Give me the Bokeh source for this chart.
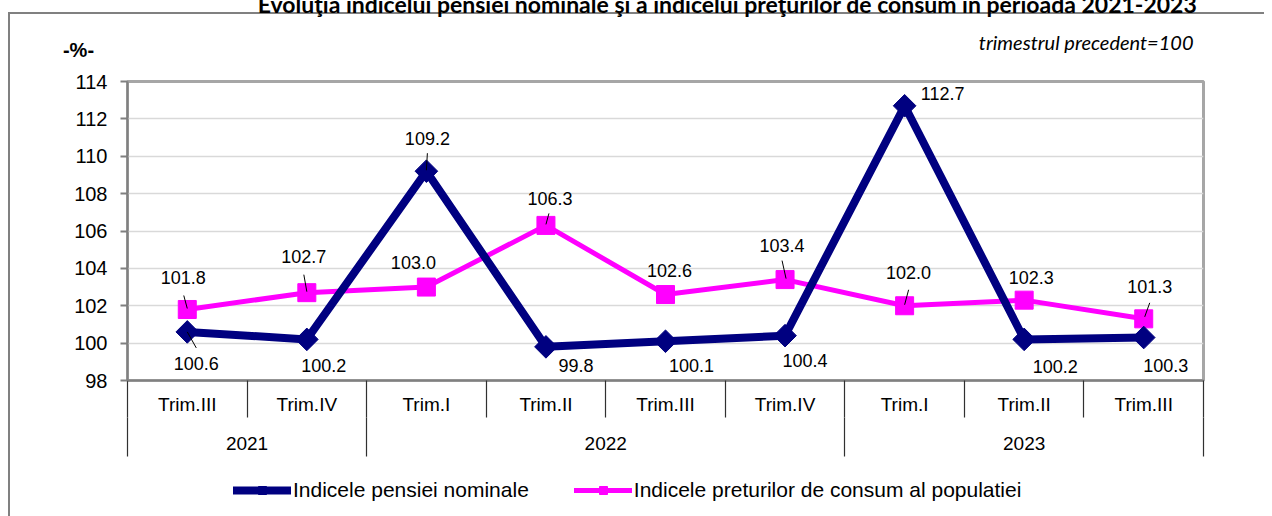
import numpy as np
from bokeh.plotting import figure
from bokeh.layouts import column
from bokeh.models import (Range1d, FixedTicker, LinearAxis, Label,
                          Legend, LegendItem, ColumnDataSource)
from bokeh.core.properties import value
from bokeh.embed import file_html
from bokeh.resources import INLINE

# ---------------- data ----------------
title = "Evoluţia indicelui pensiei nominale şi a indicelui preţurilor de consum în perioada 2021-2023"
note = "trimestrul precedent=100"
unit = "-%-"
years = ["2021", "2022", "2023"]
year_quarters = [2, 4, 3]
quarters = ["Trim.III", "Trim.IV", "Trim.I", "Trim.II", "Trim.III",
            "Trim.IV", "Trim.I", "Trim.II", "Trim.III"]
pension = [100.6, 100.2, 109.2, 99.8, 100.1, 100.4, 112.7, 100.2, 100.3]
cpi = [101.8, 102.7, 103.0, 106.3, 102.6, 103.4, 102.0, 102.3, 101.3]
pension_name = "Indicele pensiei nominale"
cpi_name = "Indicele preturilor de consum al populatiei"
y_ticks = [98, 100, 102, 104, 106, 108, 110, 112, 114]

# label offsets in screen px (dx right, dy down)
pension_lbl_dx = [9, 17, 1, 30, 26, 20, 38, 31, 22]
pension_lbl_dy = [32, 26, -33, 19, 24, 25, -12, 27, 28]
cpi_lbl_dx = [-4, -3, -13, 4, 4, -3, 4, 7, 6]
cpi_lbl_dy = [-32, -36, -25, -27, -24, -34, -33, -23, -32]
# leader lines: (series, index, dx0, dy0, dx1, dy1) in screen px
leaders = [("cpi", 0, -3.5, -14, 0, -1), ("pension", 0, 0, 0, 9, 16),
           ("cpi", 1, -3, -18, 0, -1), ("pension", 2, 1, -18, 0, -1),
           ("cpi", 3, 3, -12, 0, -1), ("cpi", 5, -3, -19, 1, -1),
           ("cpi", 6, 4, -16, 0, -1), ("cpi", 8, 6, -16, 1, -2)]

# ---------------- geometry ----------------
SHIFT = 16                  # whole page pulled up: the title is cut like in the source
W = 1264
TOP_H = 62 + SHIFT          # header strip (title, note, unit)
MAIN_H = 460 - 62           # chart with category axes
LEG_H = 516 - 460           # legend strip
ML, MR, MT, MB = 127, 61, 19, 80
FW = W - ML - MR
FH = MAIN_H - MT - MB
n = len(quarters)
ymin, ymax = y_ticks[0], y_ticks[-1]
px_x = FW / n
px_y = FH / (ymax - ymin)
FONT = "Liberation Sans"
BORDER = "#808080"


def left_line_bg(top=0):
    s = (f"linear-gradient({BORDER},{BORDER}) 8px {top}px / 2px calc(100% - {top}px) no-repeat")
    if top:
        s += f", linear-gradient({BORDER},{BORDER}) 8px {top}px / calc(100% - 8px) 2px no-repeat"
    return s + ", #ffffff"


def strip(height, yr):
    f = figure(width=W, height=height, x_range=Range1d(0, W), y_range=yr,
               output_backend="svg", toolbar_location=None, min_border=0,
               x_axis_location=None, y_axis_location=None)
    f.outline_line_color = None
    f.background_fill_color = None
    f.border_fill_color = None
    f.grid.visible = False
    return f


ALIGN_OFF = "frame_align" in figure.properties()

# ---------------- header strip ----------------
pt = strip(TOP_H, Range1d(TOP_H, 0))
pt.styles = {"background": left_line_bg(12 + SHIFT)}
pt.add_layout(Label(x=727, y=3.5 + SHIFT, text=title, text_align="center",
                    text_baseline="alphabetic", text_font="Lato", text_font_style="bold",
                    text_font_size="23px", text_color="black"))
pt.add_layout(Label(x=1193, y=41.5 + SHIFT, text=note, text_align="right",
                    text_baseline="alphabetic", text_font="Lato", text_font_style="italic",
                    text_font_size="20px", text_color="black"))
pt.add_layout(Label(x=78, y=49 + SHIFT, text=unit, text_align="center",
                    text_baseline="middle", text_font=FONT, text_font_style="bold",
                    text_font_size="20px", text_color="black"))

# ---------------- main chart ----------------
p = figure(width=W, height=MAIN_H, x_range=Range1d(0, n), y_range=Range1d(ymin, ymax),
           output_backend="svg", toolbar_location=None,
           min_border_left=ML, min_border_right=MR, min_border_top=MT, min_border_bottom=MB)
p.styles = {"background": left_line_bg()}
p.background_fill_color = "white"
p.border_fill_color = None
p.outline_line_color = "#a6a6a6"
p.outline_line_width = 3

xc = [i + 0.5 for i in range(n)]

ya = p.yaxis[0]
ya.ticker = FixedTicker(ticks=y_ticks)
ya.axis_line_color = "#808080"
ya.axis_line_width = 2
ya.major_tick_line_color = "#808080"
ya.major_tick_line_width = 2
ya.major_tick_out = 7
ya.major_tick_in = 0
ya.minor_tick_line_color = None
ya.major_label_text_font = FONT
ya.major_label_text_font_size = "20px"
ya.major_label_text_color = "black"
ya.major_label_standoff = 13

p.xgrid.visible = False
p.ygrid.grid_line_color = "#d9d9d9"
p.ygrid.grid_line_width = 1.5

# quarter axis
bounds = list(range(n + 1))
xa = p.xaxis[0]
xa.ticker = FixedTicker(ticks=xc, minor_ticks=bounds)
xa.major_label_overrides = {c: q for c, q in zip(xc, quarters)}
xa.axis_line_color = "#808080"
xa.axis_line_width = 2
xa.major_tick_line_color = None
xa.major_tick_out = 0
xa.major_tick_in = 0
xa.minor_tick_line_color = "#303030"
xa.minor_tick_line_width = 1.2
xa.minor_tick_out = 37
xa.minor_tick_in = 0
xa.major_label_text_font = FONT
xa.major_label_text_font_size = "19px"
xa.major_label_text_color = "black"
xa.major_label_standoff = -24

# year axis
ybounds = [0]
for c in year_quarters:
    ybounds.append(ybounds[-1] + c)
ycent = [(ybounds[i] + ybounds[i + 1]) / 2 for i in range(len(years))]
ax2 = LinearAxis(ticker=FixedTicker(ticks=ycent, minor_ticks=ybounds))
ax2.major_label_overrides = {c: y for c, y in zip(ycent, years)}
ax2.axis_line_color = None
ax2.major_tick_line_color = None
ax2.major_tick_out = 0
ax2.major_tick_in = 0
ax2.minor_tick_line_color = "#303030"
ax2.minor_tick_line_width = 1.2
ax2.minor_tick_out = 39
ax2.minor_tick_in = 0
ax2.major_label_text_font = FONT
ax2.major_label_text_font_size = "19px"
ax2.major_label_text_color = "black"
ax2.major_label_standoff = -20
p.add_layout(ax2, "below")

# series
line_cpi = dict(line_color="#ff00ff", line_width=5, line_cap="round", line_join="round")
mark_cpi = dict(marker="square", size=18, fill_color="#ff00ff", line_color="#ff00ff")
line_pen = dict(line_color="#000080", line_width=8, line_cap="round", line_join="round")
mark_pen = dict(marker="square", angle=np.pi / 4, size=16, fill_color="#000080", line_color="#000080")

p.line(xc, cpi, **line_cpi)
p.scatter(xc, cpi, **mark_cpi)
p.line(xc, pension, **line_pen)
p.scatter(xc, pension, **mark_pen)

# data labels
lab_src = ColumnDataSource(dict(
    x=xc + xc, y=pension + cpi,
    t=[f"{v:.1f}" for v in pension] + [f"{v:.1f}" for v in cpi],
    dx=pension_lbl_dx + cpi_lbl_dx, dy=pension_lbl_dy + cpi_lbl_dy))
p.text(x="x", y="y", text="t", x_offset="dx", y_offset="dy", source=lab_src,
       text_align="center", text_baseline="middle", text_font=value(FONT),
       text_font_size="18px", text_color="black")

# leader lines
series = {"pension": pension, "cpi": cpi}
x0s, y0s, x1s, y1s = [], [], [], []
for s, i, dx0, dy0, dx1, dy1 in leaders:
    v = series[s][i]
    x0s.append(xc[i] + dx0 / px_x); y0s.append(v - dy0 / px_y)
    x1s.append(xc[i] + dx1 / px_x); y1s.append(v - dy1 / px_y)
p.segment(x0s, y0s, x1s, y1s, line_color="black", line_width=1)

# ---------------- legend strip ----------------
pl = strip(LEG_H, Range1d(0, 1))
pl.styles = {"background": left_line_bg()}
# same series, drawn outside this strip's ranges: only their legend glyphs show
r1 = pl.line(xc, pension, **line_pen)
r2 = pl.scatter(xc, pension, **mark_pen)
r3 = pl.line(xc, cpi, **line_cpi)
r4 = pl.scatter(xc, cpi, **mark_cpi)
legend = Legend(items=[LegendItem(label=pension_name, renderers=[r1, r2]),
                       LegendItem(label=cpi_name, renderers=[r3, r4])],
                orientation="horizontal", location=(233 if ALIGN_OFF else 233 - ML, 14))
legend.border_line_color = None
legend.background_fill_alpha = 0
legend.padding = 0
legend.margin = 0
legend.spacing = 45
legend.glyph_width = 58
legend.glyph_height = 20
legend.label_height = 20
legend.label_standoff = 2
legend.label_text_font = FONT
legend.label_text_font_size = "21px"
legend.label_text_color = "black"
pl.add_layout(legend)

if ALIGN_OFF:
    for f in (pt, p, pl):
        f.frame_align = False
else:
    pt.x_range = Range1d(ML, W - MR)

layout = column(pt, p, pl, spacing=0)
layout.styles = {"margin-top": f"-{SHIFT}px"}

open("out.html", "w").write(file_html(layout, INLINE))
